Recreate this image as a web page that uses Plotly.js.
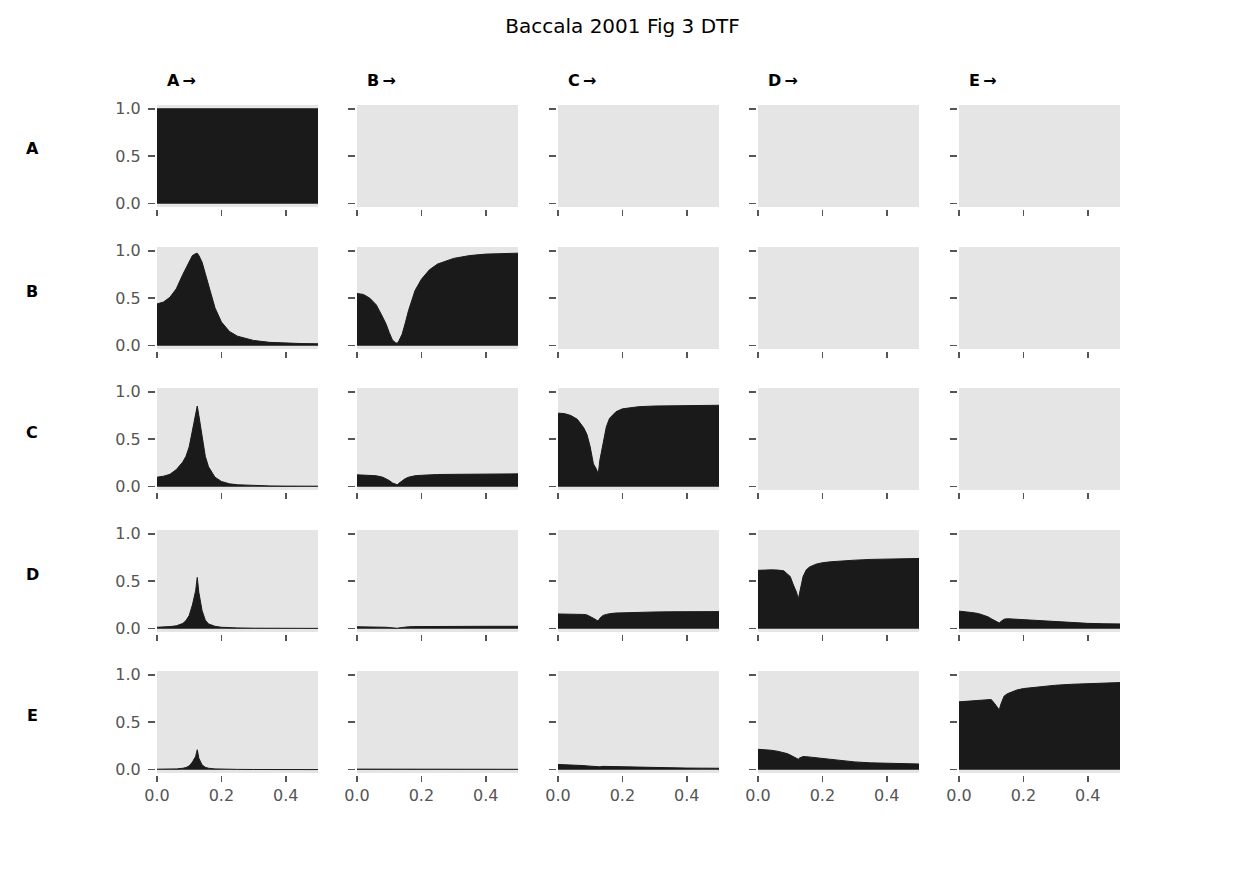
<!DOCTYPE html>
<html>
<head>
<meta charset="utf-8">
<script src="https://cdn.plot.ly/plotly-3.0.1.min.js"></script>
<style>html,body{margin:0;padding:0;background:#fff;}#chart{width:1245px;height:870px;}</style>
</head>
<body>
<div id="chart"></div>
<script>
// Normalized frequency grid
const freq = [0, 0.02, 0.04, 0.06, 0.08, 0.09, 0.1, 0.11, 0.12, 0.125, 0.13, 0.14, 0.15, 0.16, 0.18, 0.2, 0.225, 0.25, 0.3, 0.35, 0.4, 0.45, 0.5];

const channels = ['A', 'B', 'C', 'D', 'E'];
const colHeaders = ['A\u2009\u2192', 'B\u2009\u2192', 'C\u2009\u2192', 'D\u2009\u2192', 'E\u2009\u2192'];
const chartTitle = 'Baccala 2001 Fig 3 DTF';
const xTicks = [0, 0.2, 0.4];
const xTickText = ['0.0', '0.2', '0.4'];
const yTicks = [0, 0.5, 1];
const yTickText = ['0.0', '0.5', '1.0'];

// DTF values: dtf_RC = row R (target), column C (source)
const dtf_AA = [1,1,1,1,1,1,1,1,1,1,1,1,1,1,1,1,1,1,1,1,1,1,1];

const dtf_BA = [0.44,0.46,0.51,0.6,0.75,0.82,0.89,0.95,0.97,0.975,0.95,0.88,0.76,0.63,0.4,0.25,0.15,0.1,0.055,0.035,0.027,0.022,0.02];
const dtf_BB = [0.55,0.54,0.5,0.43,0.3,0.23,0.14,0.06,0.03,0.025,0.05,0.12,0.24,0.37,0.58,0.7,0.8,0.86,0.92,0.95,0.965,0.972,0.975];

const dtf_CA = [0.1,0.11,0.13,0.18,0.26,0.32,0.42,0.6,0.77,0.85,0.75,0.52,0.32,0.21,0.1,0.055,0.03,0.02,0.012,0.008,0.006,0.005,0.005];
const dtf_CB = [0.125,0.124,0.12,0.115,0.1,0.085,0.065,0.04,0.025,0.02,0.035,0.06,0.085,0.1,0.115,0.12,0.125,0.128,0.13,0.132,0.133,0.134,0.135];
const dtf_CC = [0.775,0.77,0.75,0.71,0.62,0.55,0.42,0.24,0.18,0.13,0.28,0.47,0.63,0.72,0.79,0.82,0.835,0.843,0.85,0.853,0.855,0.857,0.858];

const dtf_DA = [0.015,0.017,0.022,0.03,0.055,0.085,0.14,0.25,0.4,0.54,0.38,0.19,0.09,0.05,0.025,0.015,0.01,0.008,0.005,0.004,0.003,0.003,0.003];
const dtf_DB = [0.02,0.02,0.02,0.019,0.017,0.015,0.012,0.008,0.005,0.004,0.008,0.014,0.018,0.02,0.022,0.023,0.024,0.024,0.025,0.025,0.025,0.025,0.025];
const dtf_DC = [0.155,0.155,0.155,0.155,0.15,0.145,0.13,0.11,0.09,0.08,0.11,0.14,0.15,0.158,0.165,0.168,0.171,0.173,0.176,0.178,0.179,0.18,0.18];
const dtf_DD = [0.615,0.62,0.62,0.618,0.61,0.58,0.55,0.46,0.38,0.31,0.4,0.55,0.62,0.65,0.68,0.695,0.705,0.712,0.722,0.73,0.735,0.738,0.74];
const dtf_DE = [0.185,0.18,0.17,0.16,0.14,0.125,0.105,0.085,0.07,0.06,0.075,0.1,0.105,0.103,0.098,0.093,0.087,0.08,0.07,0.062,0.056,0.052,0.05];

const dtf_EA = [0.005,0.005,0.006,0.008,0.015,0.022,0.04,0.08,0.14,0.21,0.12,0.05,0.025,0.015,0.008,0.005,0.003,0.003,0.002,0.001,0.001,0.001,0.001];
const dtf_EB = [0.006,0.006,0.006,0.005,0.005,0.005,0.004,0.003,0.003,0.002,0.003,0.004,0.004,0.004,0.004,0.004,0.004,0.004,0.004,0.004,0.004,0.004,0.004];
const dtf_EC = [0.055,0.054,0.052,0.048,0.043,0.04,0.036,0.031,0.027,0.025,0.03,0.035,0.034,0.033,0.031,0.029,0.027,0.025,0.022,0.019,0.017,0.016,0.015];
const dtf_ED = [0.215,0.212,0.205,0.195,0.18,0.17,0.155,0.135,0.118,0.11,0.125,0.138,0.137,0.133,0.125,0.115,0.105,0.095,0.082,0.072,0.066,0.062,0.06];
const dtf_EE = [0.715,0.72,0.728,0.735,0.742,0.745,0.74,0.7,0.66,0.63,0.69,0.775,0.8,0.815,0.84,0.855,0.865,0.875,0.89,0.9,0.908,0.914,0.918];

const panels = {
  AA: dtf_AA,
  BA: dtf_BA, BB: dtf_BB,
  CA: dtf_CA, CB: dtf_CB, CC: dtf_CC,
  DA: dtf_DA, DB: dtf_DB, DC: dtf_DC, DD: dtf_DD, DE: dtf_DE,
  EA: dtf_EA, EB: dtf_EB, EC: dtf_EC, ED: dtf_ED, EE: dtf_EE
};

const W = 1245, H = 870;
const colLeft = [157, 357, 558, 758, 959];
const rowTop = [105, 247, 388, 530, 671];
const pw = 161, ph = 102;
const FONT = 'DejaVu Sans, sans-serif';
const FILL = '#1a1a1a';
const TICK = '#555555';

const traces = [];
const layout = {
  width: W, height: H,
  margin: {l: 0, r: 0, t: 0, b: 0},
  paper_bgcolor: '#ffffff',
  plot_bgcolor: '#e5e5e5',
  showlegend: false,
  font: {family: FONT, color: '#000'},
  title: {text: chartTitle, x: 0.5, xanchor: 'center', y: 1 - 26 / H, yanchor: 'middle',
          font: {family: FONT, size: 20, color: '#000'}},
  annotations: []
};

for (let r = 0; r < 5; r++) {
  for (let c = 0; c < 5; c++) {
    const idx = r * 5 + c + 1;
    const sx = idx === 1 ? '' : String(idx);
    const key = channels[r] + channels[c];
    const vals = panels[key];
    traces.push({
      type: 'scatter', mode: 'lines',
      x: vals ? freq : [], y: vals ? vals : [],
      fill: 'tozeroy', fillcolor: FILL,
      line: {color: FILL, width: 1},
      xaxis: 'x' + sx, yaxis: 'y' + sx,
      hoverinfo: 'skip'
    });
    layout['xaxis' + sx] = {
      domain: [colLeft[c] / W, (colLeft[c] + pw) / W],
      range: [0, 0.5],
      anchor: 'free',
      position: 1 - (rowTop[r] + ph + 2) / H,
      tickvals: xTicks, ticktext: xTickText,
      showticklabels: r === 4,
      ticks: 'outside', ticklen: 6, tickwidth: 1.5, tickcolor: TICK,
      tickfont: {family: FONT, size: 16, color: TICK},
      showgrid: false, zeroline: false, showline: false, fixedrange: true
    };
    layout['yaxis' + sx] = {
      domain: [1 - (rowTop[r] + ph) / H, 1 - rowTop[r] / H],
      range: [-0.035, 1.04],
      anchor: 'free',
      position: (colLeft[c] - 2) / W,
      tickvals: yTicks, ticktext: yTickText,
      showticklabels: c === 0,
      ticks: 'outside', ticklen: 7, tickwidth: 1.5, tickcolor: TICK,
      ticklabelstandoff: 4,
      tickfont: {family: FONT, size: 16, color: TICK},
      showgrid: false, zeroline: false, showline: false, fixedrange: true
    };
  }
}

for (let c = 0; c < 5; c++) {
  layout.annotations.push({
    text: '<b>' + colHeaders[c] + '</b>', xref: 'paper', yref: 'paper',
    x: (colLeft[c] + 8) / W, y: 1 - 80 / H, xanchor: 'left', yanchor: 'middle',
    showarrow: false, font: {family: FONT, size: 16, color: '#000'}
  });
}
for (let r = 0; r < 5; r++) {
  layout.annotations.push({
    text: '<b>' + channels[r] + '</b>', xref: 'paper', yref: 'paper',
    x: 32 / W, y: 1 - (rowTop[r] + 44) / H, xanchor: 'center', yanchor: 'middle',
    showarrow: false, font: {family: FONT, size: 16, color: '#000'}
  });
}

Plotly.newPlot('chart', traces, layout, {staticPlot: true, displayModeBar: false});
</script>
</body>
</html>
